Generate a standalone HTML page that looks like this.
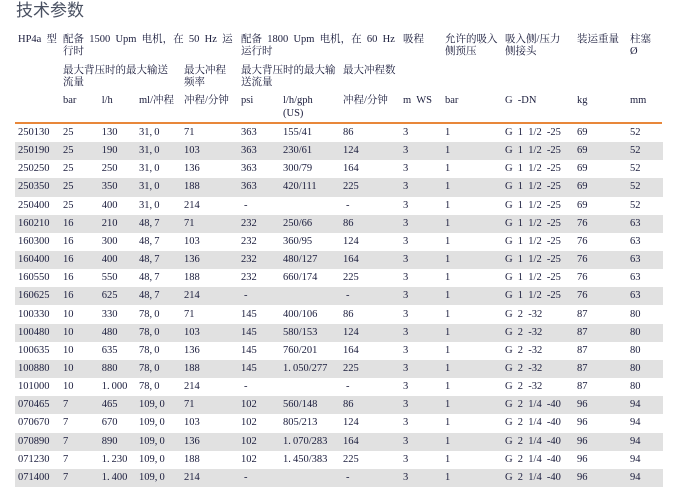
<!DOCTYPE html>
<html>
<head>
<meta charset="utf-8">
<style>
html,body{margin:0;padding:0;background:#fff;}
body{width:676px;height:492px;position:relative;overflow:hidden;
 font-family:"Liberation Serif","Noto Serif CJK SC",serif;font-size:10.5px;color:#1a1c3c;}
.title{position:absolute;left:16px;top:0;line-height:21px;font-size:17px;
 font-family:"Liberation Sans","Noto Sans CJK SC",sans-serif;color:#4a5162;}
.h{position:absolute;white-space:nowrap;line-height:18px;height:18px;word-spacing:2.6px;}
.line{position:absolute;left:15px;top:122px;width:647px;height:2px;background:#e8873a;}
.r{position:absolute;left:15px;width:648px;height:18.15px;line-height:18px;}
.r.g{background:#e1e1e1;}
.r span{position:absolute;white-space:nowrap;word-spacing:2.6px;}
.a{left:3px}.b{left:48px}.c{left:86.7px}.d{left:124px}.e{left:169px}
.f{left:226px}.fd{left:229px}.g7{left:268px}.h8{left:328px}.h8d{left:331px}
.i{left:388px}.j{left:430px}.k{left:490px}.l{left:562px}.m{left:615px}
</style>
</head>
<body>
<div class="title">技术参数</div>

<div class="h" style="left:18px;top:31px">HP4a 型</div>
<div class="h" style="left:63px;top:31px">配备 1500 Upm 电机，在 50 Hz 运</div>
<div class="h" style="left:241px;top:31px">配备 1800 Upm 电机，在 60 Hz</div>
<div class="h" style="left:403px;top:31px">吸程</div>
<div class="h" style="left:445px;top:31px">允许的吸入</div>
<div class="h" style="left:505px;top:31px">吸入侧/压力</div>
<div class="h" style="left:577px;top:31px">装运重量</div>
<div class="h" style="left:630px;top:31px">柱塞</div>
<div class="h" style="left:63px;top:43px">行时</div>
<div class="h" style="left:241px;top:43px">运行时</div>
<div class="h" style="left:445px;top:43px">侧预压</div>
<div class="h" style="left:505px;top:43px">侧接头</div>
<div class="h" style="left:630px;top:43px">Ø</div>
<div class="h" style="left:63px;top:62px">最大背压时的最大输送</div>
<div class="h" style="left:184px;top:62px">最大冲程</div>
<div class="h" style="left:241px;top:62px">最大背压时的最大输</div>
<div class="h" style="left:343px;top:62px">最大冲程数</div>
<div class="h" style="left:63px;top:74px">流量</div>
<div class="h" style="left:184px;top:74px">频率</div>
<div class="h" style="left:241px;top:74px">送流量</div>
<div class="h" style="left:63px;top:92px">bar</div>
<div class="h" style="left:101.7px;top:92px">l/h</div>
<div class="h" style="left:139px;top:92px">ml/冲程</div>
<div class="h" style="left:184px;top:92px">冲程/分钟</div>
<div class="h" style="left:241px;top:92px">psi</div>
<div class="h" style="left:283px;top:92px">l/h/gph</div>
<div class="h" style="left:283px;top:105px">(US)</div>
<div class="h" style="left:343px;top:92px">冲程/分钟</div>
<div class="h" style="left:403px;top:92px">m WS</div>
<div class="h" style="left:445px;top:92px">bar</div>
<div class="h" style="left:505px;top:92px">G -DN</div>
<div class="h" style="left:577px;top:92px">kg</div>
<div class="h" style="left:630px;top:92px">mm</div>

<div class="line"></div>

<div class="r" style="top:124px"><span class="a">250130</span><span class="b">25</span><span class="c">130</span><span class="d">31,&#8201;0</span><span class="e">71</span><span class="f">363</span><span class="g7">155/41</span><span class="h8">86</span><span class="i">3</span><span class="j">1</span><span class="k">G 1 1/2 -25</span><span class="l">69</span><span class="m">52</span></div>
<div class="r g" style="top:142.15px"><span class="a">250190</span><span class="b">25</span><span class="c">190</span><span class="d">31,&#8201;0</span><span class="e">103</span><span class="f">363</span><span class="g7">230/61</span><span class="h8">124</span><span class="i">3</span><span class="j">1</span><span class="k">G 1 1/2 -25</span><span class="l">69</span><span class="m">52</span></div>
<div class="r" style="top:160.3px"><span class="a">250250</span><span class="b">25</span><span class="c">250</span><span class="d">31,&#8201;0</span><span class="e">136</span><span class="f">363</span><span class="g7">300/79</span><span class="h8">164</span><span class="i">3</span><span class="j">1</span><span class="k">G 1 1/2 -25</span><span class="l">69</span><span class="m">52</span></div>
<div class="r g" style="top:178.45px"><span class="a">250350</span><span class="b">25</span><span class="c">350</span><span class="d">31,&#8201;0</span><span class="e">188</span><span class="f">363</span><span class="g7">420/111</span><span class="h8">225</span><span class="i">3</span><span class="j">1</span><span class="k">G 1 1/2 -25</span><span class="l">69</span><span class="m">52</span></div>
<div class="r" style="top:196.6px"><span class="a">250400</span><span class="b">25</span><span class="c">400</span><span class="d">31,&#8201;0</span><span class="e">214</span><span class="fd">-</span><span class="h8d">-</span><span class="i">3</span><span class="j">1</span><span class="k">G 1 1/2 -25</span><span class="l">69</span><span class="m">52</span></div>
<div class="r g" style="top:214.75px"><span class="a">160210</span><span class="b">16</span><span class="c">210</span><span class="d">48,&#8201;7</span><span class="e">71</span><span class="f">232</span><span class="g7">250/66</span><span class="h8">86</span><span class="i">3</span><span class="j">1</span><span class="k">G 1 1/2 -25</span><span class="l">76</span><span class="m">63</span></div>
<div class="r" style="top:232.9px"><span class="a">160300</span><span class="b">16</span><span class="c">300</span><span class="d">48,&#8201;7</span><span class="e">103</span><span class="f">232</span><span class="g7">360/95</span><span class="h8">124</span><span class="i">3</span><span class="j">1</span><span class="k">G 1 1/2 -25</span><span class="l">76</span><span class="m">63</span></div>
<div class="r g" style="top:251.05px"><span class="a">160400</span><span class="b">16</span><span class="c">400</span><span class="d">48,&#8201;7</span><span class="e">136</span><span class="f">232</span><span class="g7">480/127</span><span class="h8">164</span><span class="i">3</span><span class="j">1</span><span class="k">G 1 1/2 -25</span><span class="l">76</span><span class="m">63</span></div>
<div class="r" style="top:269.2px"><span class="a">160550</span><span class="b">16</span><span class="c">550</span><span class="d">48,&#8201;7</span><span class="e">188</span><span class="f">232</span><span class="g7">660/174</span><span class="h8">225</span><span class="i">3</span><span class="j">1</span><span class="k">G 1 1/2 -25</span><span class="l">76</span><span class="m">63</span></div>
<div class="r g" style="top:287.35px"><span class="a">160625</span><span class="b">16</span><span class="c">625</span><span class="d">48,&#8201;7</span><span class="e">214</span><span class="fd">-</span><span class="h8d">-</span><span class="i">3</span><span class="j">1</span><span class="k">G 1 1/2 -25</span><span class="l">76</span><span class="m">63</span></div>
<div class="r" style="top:305.5px"><span class="a">100330</span><span class="b">10</span><span class="c">330</span><span class="d">78,&#8201;0</span><span class="e">71</span><span class="f">145</span><span class="g7">400/106</span><span class="h8">86</span><span class="i">3</span><span class="j">1</span><span class="k">G 2 -32</span><span class="l">87</span><span class="m">80</span></div>
<div class="r g" style="top:323.65px"><span class="a">100480</span><span class="b">10</span><span class="c">480</span><span class="d">78,&#8201;0</span><span class="e">103</span><span class="f">145</span><span class="g7">580/153</span><span class="h8">124</span><span class="i">3</span><span class="j">1</span><span class="k">G 2 -32</span><span class="l">87</span><span class="m">80</span></div>
<div class="r" style="top:341.8px"><span class="a">100635</span><span class="b">10</span><span class="c">635</span><span class="d">78,&#8201;0</span><span class="e">136</span><span class="f">145</span><span class="g7">760/201</span><span class="h8">164</span><span class="i">3</span><span class="j">1</span><span class="k">G 2 -32</span><span class="l">87</span><span class="m">80</span></div>
<div class="r g" style="top:359.95px"><span class="a">100880</span><span class="b">10</span><span class="c">880</span><span class="d">78,&#8201;0</span><span class="e">188</span><span class="f">145</span><span class="g7">1.&#8201;050/277</span><span class="h8">225</span><span class="i">3</span><span class="j">1</span><span class="k">G 2 -32</span><span class="l">87</span><span class="m">80</span></div>
<div class="r" style="top:378.1px"><span class="a">101000</span><span class="b">10</span><span class="c">1.&#8201;000</span><span class="d">78,&#8201;0</span><span class="e">214</span><span class="fd">-</span><span class="h8d">-</span><span class="i">3</span><span class="j">1</span><span class="k">G 2 -32</span><span class="l">87</span><span class="m">80</span></div>
<div class="r g" style="top:396.25px"><span class="a">070465</span><span class="b">7</span><span class="c">465</span><span class="d">109,&#8201;0</span><span class="e">71</span><span class="f">102</span><span class="g7">560/148</span><span class="h8">86</span><span class="i">3</span><span class="j">1</span><span class="k">G 2 1/4 -40</span><span class="l">96</span><span class="m">94</span></div>
<div class="r" style="top:414.4px"><span class="a">070670</span><span class="b">7</span><span class="c">670</span><span class="d">109,&#8201;0</span><span class="e">103</span><span class="f">102</span><span class="g7">805/213</span><span class="h8">124</span><span class="i">3</span><span class="j">1</span><span class="k">G 2 1/4 -40</span><span class="l">96</span><span class="m">94</span></div>
<div class="r g" style="top:432.55px"><span class="a">070890</span><span class="b">7</span><span class="c">890</span><span class="d">109,&#8201;0</span><span class="e">136</span><span class="f">102</span><span class="g7">1.&#8201;070/283</span><span class="h8">164</span><span class="i">3</span><span class="j">1</span><span class="k">G 2 1/4 -40</span><span class="l">96</span><span class="m">94</span></div>
<div class="r" style="top:450.7px"><span class="a">071230</span><span class="b">7</span><span class="c">1.&#8201;230</span><span class="d">109,&#8201;0</span><span class="e">188</span><span class="f">102</span><span class="g7">1.&#8201;450/383</span><span class="h8">225</span><span class="i">3</span><span class="j">1</span><span class="k">G 2 1/4 -40</span><span class="l">96</span><span class="m">94</span></div>
<div class="r g" style="top:468.85px"><span class="a">071400</span><span class="b">7</span><span class="c">1.&#8201;400</span><span class="d">109,&#8201;0</span><span class="e">214</span><span class="fd">-</span><span class="h8d">-</span><span class="i">3</span><span class="j">1</span><span class="k">G 2 1/4 -40</span><span class="l">96</span><span class="m">94</span></div>
</body>
</html>
